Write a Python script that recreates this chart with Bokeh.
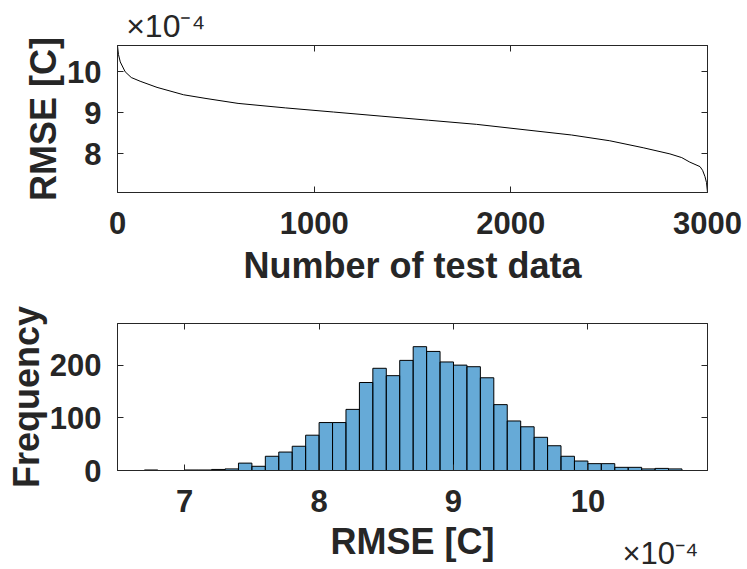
from bokeh.plotting import figure
from bokeh.layouts import column
from bokeh.models import Range1d, LinearAxis, FixedTicker
from bokeh.embed import file_html
from bokeh.resources import INLINE

# ---------------- data ----------------
# Top: sorted RMSE of each test sample (units of 1e-4 C)
test_index = [0, 5, 14, 39, 70, 115, 201, 336, 450, 613, 855, 1098, 1340, 1582,
              1825, 2067, 2309, 2503, 2673, 2809, 2869, 2910, 2962, 2975, 2987, 2995, 3000]
rmse_sorted_e4 = [10.63, 10.42, 10.24, 10.00, 9.86, 9.77, 9.62, 9.44, 9.35, 9.23, 9.12,
                  9.02, 8.92, 8.82, 8.72, 8.59, 8.46, 8.32, 8.15, 8.00, 7.91, 7.80,
                  7.69, 7.60, 7.45, 7.30, 7.06]

# Bottom: histogram of RMSE (bin edges in units of 1e-4 C)
bin_left_e4 = [6.7, 6.8, 6.9, 7.0, 7.1, 7.2, 7.3, 7.4, 7.5, 7.6, 7.7, 7.8, 7.9,
               8.0, 8.1, 8.2, 8.3, 8.4, 8.5, 8.6, 8.7, 8.8, 8.9, 9.0, 9.1, 9.2,
               9.3, 9.4, 9.5, 9.6, 9.7, 9.8, 9.9, 10.0, 10.1, 10.2, 10.3, 10.4,
               10.5, 10.6]
bin_width_e4 = 0.1
frequency = [1, 0, 0, 1, 1, 2, 3, 14, 8, 27, 35, 46, 67, 91, 91, 116, 167, 194,
             180, 209, 235, 226, 206, 200, 197, 176, 125, 94, 83, 63, 47, 27, 18,
             13, 13, 6, 6, 3, 4, 3]
bin_right_e4 = [b + bin_width_e4 for b in bin_left_e4]

top_xticks = [0, 1000, 2000, 3000]
top_yticks = [8, 9, 10]
bot_xticks = [7, 8, 9, 10]
bot_yticks = [0, 100, 200]
exponent_text = "×10⁻⁴"

AX = "#262626"
FONT = "Liberation Sans"
TICK_FS = "31px"
LAB_FS = "36px"


def style(p, xt, yt, xlabel, ylabel, xlab_standoff):
    xa = p.below[0]
    ya = p.left[0]
    xa.axis_label = xlabel
    ya.axis_label = ylabel
    for ax in (xa, ya):
        ax.axis_line_color = AX
        ax.major_tick_line_color = AX
        ax.major_tick_in = 6
        ax.major_tick_out = 0
        ax.minor_tick_line_color = None
        ax.major_label_text_font = FONT
        ax.major_label_text_font_style = "bold"
        ax.major_label_text_font_size = TICK_FS
        ax.major_label_text_color = AX
        ax.axis_label_text_font = FONT
        ax.axis_label_text_font_style = "bold"
        ax.axis_label_text_font_size = LAB_FS
        ax.axis_label_text_color = AX
    xa.ticker = FixedTicker(ticks=xt)
    ya.ticker = FixedTicker(ticks=yt)
    xa.major_label_standoff = 19
    ya.major_label_standoff = 16
    xa.axis_label_standoff = xlab_standoff
    ya.axis_label_standoff = 0
    # box axes (top/right) with inward ticks, no labels
    for loc, tk in (("above", xt), ("right", yt)):
        a = LinearAxis(ticker=FixedTicker(ticks=tk), major_label_text_font_size="0px",
                       major_label_standoff=0, major_tick_in=6, major_tick_out=0,
                       minor_tick_line_color=None, axis_line_color=AX,
                       major_tick_line_color=AX)
        p.add_layout(a, loc)
    p.xgrid.grid_line_color = None
    p.ygrid.grid_line_color = None
    p.outline_line_color = AX
    p.background_fill_color = "white"
    p.border_fill_color = "white"


def exponent_axis(p, loc, xpos, standoff, size):
    a = LinearAxis(ticker=FixedTicker(ticks=[xpos]),
                   major_label_overrides={xpos: exponent_text},
                   axis_line_color=None, major_tick_line_color=None,
                   minor_tick_line_color=None, major_tick_in=0, major_tick_out=0,
                   major_label_standoff=standoff,
                   major_label_text_font=FONT, major_label_text_font_size=size,
                   major_label_text_font_style="normal", major_label_text_color=AX)
    p.add_layout(a, loc)


# ---------------- top figure ----------------
p1 = figure(frame_width=590, frame_height=147, min_border_left=117, min_border_right=40,
            min_border_top=45, min_border_bottom=108, toolbar_location=None,
            output_backend="svg", title=None,
            x_range=Range1d(0, 3000), y_range=Range1d(7.06, 10.64))
p1.line(test_index, rmse_sorted_e4, line_color="black", line_width=1)
style(p1, top_xticks, top_yticks, "Number of test data", "RMSE [C]", 8)
exponent_axis(p1, "above", 245, 2, "32px")

# ---------------- bottom figure ----------------
p2 = figure(frame_width=590, frame_height=147, min_border_left=117, min_border_right=40,
            min_border_top=23, min_border_bottom=99, toolbar_location=None,
            output_backend="svg", title=None,
            x_range=Range1d(6.5, 10.89), y_range=Range1d(0, 279))
p2.quad(left=bin_left_e4, right=bin_right_e4, top=frequency, bottom=0,
        fill_color="#0072BD", fill_alpha=0.6, line_color="black", line_width=1)
style(p2, bot_xticks, bot_yticks, "RMSE [C]", "Frequency", 6)
exponent_axis(p2, "below", 10.54, -29, "31px")

layout = column(p1, p2, spacing=0)
open("out.html", "w").write(file_html(layout, INLINE))
